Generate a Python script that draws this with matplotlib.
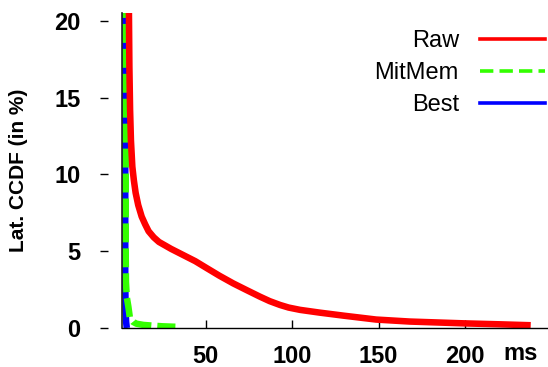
import matplotlib
matplotlib.use("Agg")
import matplotlib.pyplot as plt
from matplotlib.lines import Line2D

# latency CCDF (ms, %)
raw_ms = [5.3, 5.9, 6.3, 6.8, 7.6, 8.5, 9.5, 11, 13, 15, 17, 20, 23, 30, 37, 44, 50.6, 58, 66,
          74, 81.4, 87, 93, 98, 104.6, 116, 130, 148.6, 168, 200, 220, 238]
raw_pct = [25, 17, 14.2, 12.2, 10.5, 9.6, 8.8, 8.0, 7.25, 6.75, 6.3, 5.9, 5.6, 5.15, 4.75, 4.35,
           3.9, 3.4, 2.9, 2.45, 2.04, 1.75, 1.5, 1.33, 1.18, 1.0, 0.8, 0.55, 0.42, 0.3, 0.24, 0.18]

mitmem_ms = [3.75, 3.75, 3.9, 4.4, 5.3, 6.2, 8, 10, 14, 19.6, 25, 31, 32.5]
mitmem_pct = [100, 5.0, 3.0, 2.0, 1.39, 0.65, 0.4, 0.28, 0.2, 0.15, 0.11, 0.085, 0.08]

best_ms = [3.5, 3.5, 3.7, 4.0, 4.4]
best_pct = [100, 3.0, 1.2, 0.4, 0.0]

x_ticks = [50, 100, 150, 200]
y_ticks = [0, 5, 10, 15, 20]

fig = plt.figure(figsize=(5.48, 3.67), dpi=100)
ax = fig.add_axes([121.7 / 548, (367 - 328) / 367, (548 - 121.7) / 548, (328 - 13) / 367])

lw = 4.7
ax.plot(best_ms, best_pct, color="#0000ff", lw=lw, solid_capstyle="butt")
ax.plot(mitmem_ms, mitmem_pct, color="#33ff00", lw=lw, dashes=(2.9, 0.92))
ax.plot(raw_ms, raw_pct, color="#ff0000", lw=lw, solid_capstyle="butt", solid_joinstyle="round")

xmin, xmax = 1.45, 248
ax.set_xlim(xmin, xmax)
ax.set_ylim(0, 20.5)

for s in ["top", "right"]:
    ax.spines[s].set_visible(False)
ax.spines["left"].set_position(("outward", 9.9))
ax.spines["left"].set_visible(False)
ax.spines["bottom"].set_linewidth(1.0)
ax.axvline(xmin, color="#222222", lw=1.2, clip_on=False)

ax.set_xticks(x_ticks)
ax.set_yticks(y_ticks)
ax.tick_params(axis="x", direction="in", length=5.8, width=1, pad=12)
ax.tick_params(axis="y", direction="out", length=5.8, width=1, pad=14)
for lab in ax.get_xticklabels() + ax.get_yticklabels():
    lab.set_fontsize(17)
    lab.set_fontweight("bold")
    lab.set_fontfamily("Liberation Sans")

ax.set_ylabel("Lat. CCDF (in %)", fontsize=15, fontweight="bold", family="Liberation Sans")
ax.yaxis.set_label_coords(-(121.7 - 28) / (548 - 121.7), 0.5)

fig.text(521 / 548, 1 - 360 / 367, "ms", ha="center", va="baseline", fontsize=17,
         fontweight="bold", family="Liberation Sans")

leg_lw = 2.6
handles = [
    Line2D([], [], color="#ff0000", lw=leg_lw),
    Line2D([], [], color="#33ff00", lw=leg_lw, dashes=(3.7, 1.7)),
    Line2D([], [], color="#0000ff", lw=leg_lw),
]
fig.legend(handles, ["Raw", "MitMem", "Best"], loc="upper right",
           bbox_to_anchor=(545 / 548, 1 - 30 / 367), markerfirst=False, frameon=False,
           handlelength=2.75, handletextpad=0.9, labelspacing=0.42, borderpad=0,
           borderaxespad=0, prop={"family": "Liberation Sans", "size": 17})

fig.savefig("out.png", dpi=100)
